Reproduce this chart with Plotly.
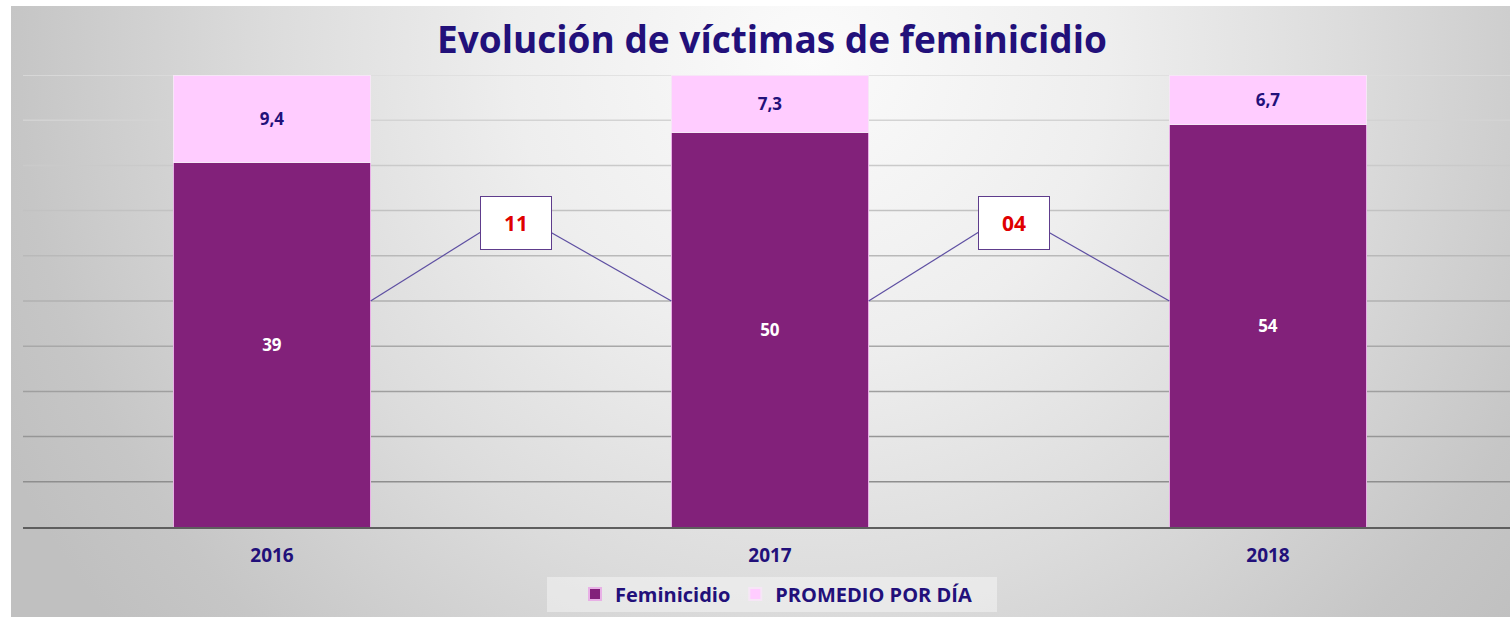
import base64
import plotly.graph_objects as go

# ---- data ----
years = ["2016", "2017", "2018"]
feminicidio = [39, 50, 54]
promedio_dia = [9.4, 7.3, 6.7]
series_names = ["Feminicidio", "PROMEDIO POR DÍA"]
title_text = "Evolución de víctimas de feminicidio"

# ---- style ----
C_FEM = "#82217A"
C_PROM = "#FFCCFF"
C_TXT = "#22107A"
FONT = "Open Sans"

W, H = 1510, 617
ML, MR, MT, MB = 23, 0, 75, 90
x_idx = list(range(len(years)))
BAR_W = 0.396
pw = W - ML - MR
ph = H - MT - MB


def fmt(v):
    return f"{v:.1f}".replace(".", ",") if isinstance(v, float) else str(v)


def px_x(p):
    return (p - ML) / pw


def px_y(p):
    return (H - MB - p) / ph


fig = go.Figure()
fig.add_trace(go.Bar(
    x=x_idx, y=feminicidio, name=series_names[0], width=BAR_W,
    marker=dict(color=C_FEM, line=dict(color="#E8B0E6", width=1)),
    text=[fmt(v) for v in feminicidio], texttemplate="%{text}",
    textposition="inside", insidetextanchor="middle",
    textfont=dict(color="white", size=17, family=FONT, weight="bold"),
    hoverinfo="skip",
))
fig.add_trace(go.Bar(
    x=x_idx, y=promedio_dia, name=series_names[1], width=BAR_W,
    marker=dict(color=C_PROM, line=dict(color="#F6E6F6", width=1)),
    text=[fmt(v) for v in promedio_dia], texttemplate="%{text}",
    textposition="inside", insidetextanchor="middle",
    textfont=dict(color=C_TXT, size=17, family=FONT, weight="bold"),
    hoverinfo="skip",
))

shapes = []
# gridlines (10% steps), darker towards the bottom
for i in range(1, 11):
    t = (i - 1) / 9
    g0, g1 = 0x8E, 0xDC
    g = int(g0 + (g1 - g0) * t)
    col = f"rgb({g},{g},{g})"
    shapes.append(dict(type="line", xref="paper", yref="y", x0=0, x1=1,
                       y0=i * 10, y1=i * 10, line=dict(color=col, width=1.5),
                       layer="below"))

# legend background box
shapes.append(dict(type="rect", xref="paper", yref="paper",
                   x0=px_x(547), x1=px_x(997), y0=px_y(612), y1=px_y(577),
                   fillcolor="rgba(255,255,255,0.4)", line=dict(width=0), layer="below"))

# connector lines and difference boxes between consecutive years
annotations = []
box_y = 67.3
for i in range(len(years) - 1):
    diff = feminicidio[i + 1] - feminicidio[i]
    mid = (x_idx[i] + x_idx[i + 1]) / 2 - 0.011
    left = x_idx[i] + BAR_W / 2
    right = x_idx[i + 1] - BAR_W / 2
    shapes.append(dict(type="line", xref="x", yref="y", x0=left, y0=50,
                       x1=mid - 0.0705, y1=65.2, line=dict(color="#5E4FA2", width=1.2)))
    shapes.append(dict(type="line", xref="x", yref="y", x0=mid + 0.0705, y0=65.2,
                       x1=right, y1=50, line=dict(color="#5E4FA2", width=1.2)))
    annotations.append(dict(
        x=mid, y=box_y, xref="x", yref="y", text=f"<b>{diff:02d}</b>",
        showarrow=False, bgcolor="white", bordercolor="#5E3C8C", borderwidth=1,
        width=68, height=50, font=dict(color="#E00000", size=21, family=FONT),
    ))

# gradient background as an SVG image covering the chart frame
svg = '''<svg xmlns="http://www.w3.org/2000/svg" width="1499" height="611" viewBox="0 0 1499 611" preserveAspectRatio="none">
<defs><radialGradient id="g" cx="800" cy="50" r="900" gradientUnits="userSpaceOnUse">
<stop offset="0" stop-color="#FBFBFB"/>
<stop offset="0.33" stop-color="#EEEEEE"/>
<stop offset="0.6" stop-color="#DCDCDC"/>
<stop offset="0.88" stop-color="#C6C6C6"/>
<stop offset="1" stop-color="#C0C0C0"/></radialGradient></defs>
<rect x="0" y="0" width="1499" height="611" fill="url(#g)"/></svg>'''
uri = "data:image/svg+xml;base64," + base64.b64encode(svg.encode()).decode()
images = [dict(source=uri, xref="paper", yref="paper",
               x=px_x(11), y=px_y(6), sizex=1499 / pw, sizey=611 / ph,
               xanchor="left", yanchor="top", sizing="stretch", layer="below")]

fig.update_layout(
    width=W, height=H,
    margin=dict(l=ML, r=MR, t=MT, b=MB, pad=0),
    paper_bgcolor="white", plot_bgcolor="rgba(0,0,0,0)",
    barmode="stack", barnorm="percent",
    separators=",.",
    title=dict(text=title_text, x=772 / W, xanchor="center", y=1 - 40 / H, yanchor="middle",
               font=dict(family=FONT, size=37, color=C_TXT, weight="bold")),
    xaxis=dict(range=[-0.5, pw / 498 - 0.5], tickvals=x_idx, ticktext=years,
               showgrid=False, zeroline=False, showline=True, linecolor="#5E5E5E", linewidth=1.5,
               ticks="", ticklabelstandoff=10,
               tickfont=dict(family=FONT, size=19, color=C_TXT, weight="bold")),
    yaxis=dict(range=[0, 100], showgrid=False, zeroline=False, showticklabels=False,
               showline=False),
    legend=dict(orientation="h", xref="container", yref="container",
                x=776 / W, xanchor="center", y=(H - 594) / H, yanchor="middle",
                bgcolor="rgba(0,0,0,0)",
                font=dict(family=FONT, size=20, color=C_TXT, weight="bold"),
                itemsizing="constant", traceorder="normal"),
    shapes=shapes, annotations=annotations, images=images,
    showlegend=True,
)

fig.write_html("out.html", config={"displayModeBar": False},
               post_script="document.body.style.margin='0';document.body.style.padding='0';")
